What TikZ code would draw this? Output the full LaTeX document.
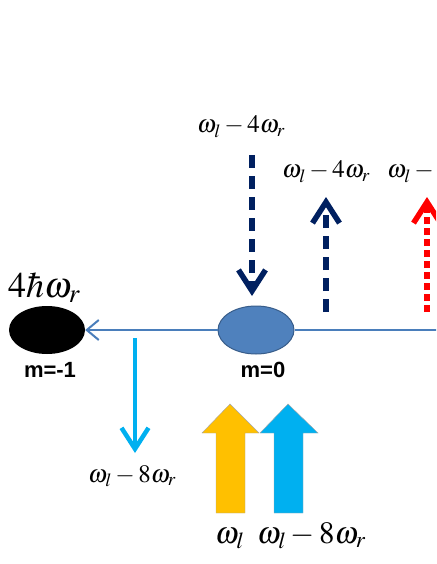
\documentclass[tikz,border=0pt]{standalone}
\usepackage{mathptmx}
\usepackage{fontspec}
\setsansfont{Liberation Sans}
\usetikzlibrary{arrows.meta, shapes.geometric}

\definecolor{navyblue}{HTML}{002060}
\definecolor{skyblue}{HTML}{00B0F0}
\definecolor{goldy}{HTML}{FFC000}
\definecolor{steel}{HTML}{4F81BD}
\definecolor{steeldark}{HTML}{385D8A}
\definecolor{axisblue}{HTML}{4A7EBB}

\begin{document}
\begin{tikzpicture}[x=1pt, y=-1pt,
		level/.style={ellipse, minimum width=76pt, minimum height=48pt, inner sep=0pt},
		mlabel/.style={font=\sffamily\bfseries\fontsize{22}{24}\selectfont, anchor=base, inner sep=0pt},
		freq/.style={font=\fontsize{25}{30}\selectfont, anchor=base west, inner sep=0pt},
		bigfreq/.style={font=\fontsize{31}{36}\selectfont, anchor=base west, inner sep=0pt},
		barb/.style={-{Straight Barb[length=21pt, width=27pt]}},
	]
	\useasboundingbox (0,0) rectangle (436,564);
	\clip (0,0) rectangle (436,564);

	% levels
	\node[level, fill=black] (mm1) at (47, 330) {};
	\node[level, fill=steel, draw=steeldark, line width=1pt] (m0) at (256, 330) {};
	\node[mlabel] (lm1) at (50, 377) {m=-1};
	\node[mlabel] (lm0) at (263, 377) {m=0};
	\node[anchor=base west, inner sep=0pt, font=\fontsize{36}{40}\selectfont] (energy) at (8, 297) {$4\hbar\omega_r$};

	\coordinate (axisend) at (440, 330);
	\draw[axisblue, line width=2pt, -{Straight Barb[length=12pt, width=20pt]}] (m0) -- (mm1);
	\draw[axisblue, line width=2pt] (m0) -- (axisend);

	% frequency labels
	\node[freq] (f1) at (197, 133) {$\omega_l-4\omega_r$};
	\node[freq] (f2) at (282, 178) {$\omega_l-4\omega_r$};
	\node[freq] (f3) at (387, 178) {$\omega_l-4\omega_r$};
	\node[freq] (f4) at (88, 482) {$\omega_l-8\omega_r$};
	\node[bigfreq] (f5) at (215, 543) {$\omega_l$};
	\node[bigfreq] (f6) at (257, 543) {$\omega_l-8\omega_r$};

	% arrows
	\coordinate (d1a) at (252, 155);
	\coordinate (d1b) at (252, 296);
	\coordinate (u1a) at (326, 312);
	\coordinate (u1b) at (326, 197);
	\coordinate (u2a) at (427, 312);
	\coordinate (u2b) at (427, 197);
	\coordinate (e1a) at (135, 338);
	\coordinate (e1b) at (135, 453);

	\draw[barb, navyblue, line width=5.5pt, dash pattern=on 13pt off 8pt] (d1a) -- (d1b);
	\draw[barb, navyblue, line width=5.5pt, dash pattern=on 13pt off 8pt] (u1a) -- (u1b);
	\draw[barb, red, line width=5.5pt, dash pattern=on 7pt off 4pt] (u2a) -- (u2b);
	\draw[barb, skyblue, line width=4.5pt] (e1a) -- (e1b);

	% pump arrows
	\draw[fill=goldy, draw=gray!70] (216,513) -- (216,433) -- (202,433) -- (230,404) -- (259,433) -- (245,433) -- (245,513) -- cycle;
	\draw[fill=skyblue, draw=gray!70] (274,513) -- (274,433) -- (260,433) -- (288,404) -- (318,433) -- (303,433) -- (303,513) -- cycle;
\end{tikzpicture}
\end{document}
